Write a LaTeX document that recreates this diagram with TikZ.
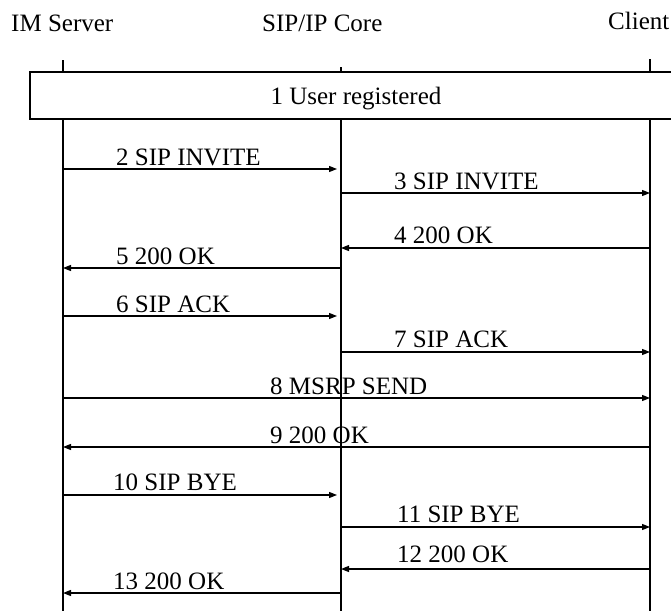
\documentclass[tikz,border=0pt]{standalone}
\usepackage{fontspec}
\setmainfont{Liberation Serif}
\usetikzlibrary{positioning,calc,arrows.meta}

\begin{document}
\begin{tikzpicture}[x=1pt, y=-1pt,
    life/.style={line width=1.1pt},
    msg/.style={line width=1.2pt, -{Triangle[length=8pt,width=6pt]}},
    lbl/.style={anchor=base west, inner sep=0pt, font=\fontsize{25}{28}\selectfont},
    regbox/.style={draw, line width=1.1pt, minimum width=652pt, minimum height=47pt, text depth=0pt, font=\fontsize{25}{28}\selectfont}]
    \useasboundingbox (0,0) rectangle (671,611);

    % Entities
    \node[lbl] (imsrv) at (11,31) {IM Server};
    \node[lbl] (core) at (262,31) {SIP/IP Core};
    \node[lbl] (client) at (608,29) {Client};

    % Lifeline ends
    \coordinate (imtop) at (63,60);
    \coordinate (coretop) at (341,67);
    \coordinate (cltop) at (650,59);
    \coordinate (imbot) at (63,611);
    \coordinate (corebot) at (341,611);
    \coordinate (clbot) at (650,611);

    % Registration box
    \node[regbox] (reg) at (356,95.5) {1 User registered};

    % Lifelines
    \foreach \t/\b in {imtop/imbot, coretop/corebot, cltop/clbot} {
        \draw[life] (\t) -- (\t |- reg.north);
        \draw[life] (\t |- reg.south) -- (\b);
    }

    % Message rows
    \foreach \n/\y in {2/169,3/193,4/248,5/268,6/316,7/352,8/398,9/447,10/495,11/527,12/569,13/593} {
        \coordinate (im\n) at (63,\y);
        \coordinate (core\n) at (341,\y);
        \coordinate (cl\n) at (650,\y);
    }

    % Session setup
    \draw[msg, shorten >=4pt] (im2) -- (core2);
    \node[lbl] (m2) at ($(im2)+(53,-4)$) {2 SIP INVITE};
    \draw[msg] (core3) -- (cl3);
    \node[lbl] (m3) at ($(core3)+(53,-4)$) {3 SIP INVITE};
    \draw[msg] (cl4) -- (core4);
    \node[lbl] (m4) at ($(core4)+(53,-5)$) {4 200 OK};
    \draw[msg] (core5) -- (im5);
    \node[lbl] (m5) at ($(im5)+(53,-4)$) {5 200 OK};
    \draw[msg, shorten >=4pt] (im6) -- (core6);
    \node[lbl] (m6) at ($(im6)+(53,-4)$) {6 SIP ACK};
    \draw[msg] (core7) -- (cl7);
    \node[lbl] (m7) at ($(core7)+(53,-5)$) {7 SIP ACK};

    % Message exchange
    \draw[msg] (im8) -- (cl8);
    \node[lbl] (m8) at ($(im8)+(207,-4)$) {8 MSRP SEND};
    \draw[msg] (cl9) -- (im9);
    \node[lbl] (m9) at ($(im9)+(207,-4)$) {9 200 OK};

    % Session teardown
    \draw[msg, shorten >=4pt] (im10) -- (core10);
    \node[lbl] (m10) at ($(im10)+(50,-5)$) {10 SIP BYE};
    \draw[msg] (core11) -- (cl11);
    \node[lbl] (m11) at ($(core11)+(56,-5)$) {11 SIP BYE};
    \draw[msg] (cl12) -- (core12);
    \node[lbl] (m12) at ($(core12)+(56,-7)$) {12 200 OK};
    \draw[msg] (core13) -- (im13);
    \node[lbl] (m13) at ($(im13)+(50,-4)$) {13 200 OK};
\end{tikzpicture}
\end{document}
